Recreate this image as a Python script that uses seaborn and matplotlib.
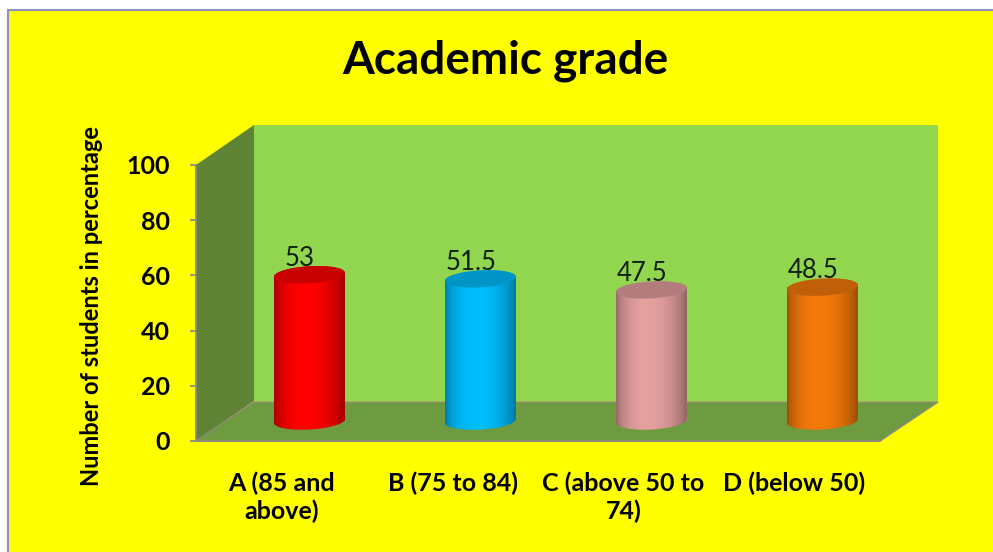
import numpy as np
import pandas as pd
import matplotlib
matplotlib.use("Agg")
import matplotlib.pyplot as plt
from matplotlib.patches import Polygon, Rectangle
from matplotlib.path import Path
from matplotlib.colors import to_rgb
from matplotlib.transforms import IdentityTransform
import seaborn as sns

categories = ["A (85 and\nabove)", "B (75 to 84)", "C (above 50 to\n74)", "D (below 50)"]
values = [53, 51.5, 47.5, 48.5]
value_labels = ["53", "51.5", "47.5", "48.5"]
bar_colors = ["#FF0000", "#00BFFF", "#E6A0A0", "#F57A0A"]
y_ticks = [0, 20, 40, 60, 80, 100]

W, H = 993, 552
sns.set_theme(style="white")
plt.rcParams["font.family"] = ["Lato", "DejaVu Sans"]

fig = plt.figure(figsize=(W / 100, H / 100), dpi=100, facecolor="white")


def fx(x, y):
    return (x / W, 1 - y / H)


def add_poly(points, **kw):
    fig.patches.append(Polygon([fx(*p) for p in points], closed=True,
                               transform=fig.transFigure, figure=fig, **kw))


def axes_px(x0, x1, y_bottom, y_top):
    return fig.add_axes([x0 / W, 1 - y_bottom / H, (x1 - x0) / W, (y_bottom - y_top) / H])


# yellow chart area
fig.patches.append(Rectangle(fx(7.5, 560), (W + 10) / W, 550 / H, transform=fig.transFigure,
                             figure=fig, facecolor="#FFFF00", edgecolor="#8F8FB5", linewidth=1.5))
# 3D box
add_poly([(254, 125), (938, 125), (938, 401), (254, 401)], facecolor="#92D650", edgecolor="none")
add_poly([(196, 165), (254, 125), (254, 401), (196, 441)], facecolor="#5F8436", edgecolor="none")
add_poly([(196, 441), (254, 402), (938, 402), (880, 441)], facecolor="#6F9B40", edgecolor="#8A8A80", linewidth=1)

# main axes: front plane with ticks and labels
ax = axes_px(196, 880, 441, 165)
ax.set_zorder(5)
ax.patch.set_visible(False)
df = pd.DataFrame({"category": categories, "value": values})
sns.barplot(data=df, x="category", y="value", ax=ax, alpha=0)
ax.set_ylim(0, 100)
ax.set_yticks(y_ticks)
ax.set_xlabel("")
ax.set_ylabel("Number of students in percentage", fontsize=17, fontweight="bold", color="black")
ax.yaxis.set_label_coords(-0.136, 0.489)
ax.tick_params(axis="y", length=4, color="#8A8A80", labelsize=18, labelcolor="black", pad=14.5, left=True)
ax.tick_params(axis="x", length=0, labelsize=18, labelcolor="black", pad=22)
for t in ax.get_yticklabels() + ax.get_xticklabels():
    t.set_fontweight("bold")
for t in ax.get_xticklabels():
    t.set_linespacing(1.25)
    t.set_verticalalignment("top")
for s in ["top", "right"]:
    ax.spines[s].set_visible(False)
ax.spines["left"].set_color("#8A8A80")
ax.spines["bottom"].set_color("#8A8A80")

# cylinders, shifted into the depth of the box (the axes reach a little below zero for the rounded bases)
bx = axes_px(224, 908, 434.8, 145)
bx.set_zorder(6)
bx.patch.set_visible(False)
sns.barplot(data=df, x="category", y="value", hue="category", palette=bar_colors,
            width=0.414, legend=False, ax=bx, saturation=1, linewidth=0)
bx.set_ylim(-5, 100)
bx.set_axis_off()
bx.set_autoscale_on(False)

fig.canvas.draw()
tilt = 0.055
b = 8.5
s = np.linspace(0, 1, 256)
shade = 0.58 + 0.42 * np.clip(np.sin(np.pi * s ** 0.85) ** 0.6, 0, 1)
for patch, col, lab in zip(list(bx.patches), bar_colors, value_labels):
    xx, top = patch.get_x(), patch.get_height()
    ww = patch.get_width()
    (xl, yb) = bx.transData.transform((xx, 0))
    (xr, yt) = bx.transData.transform((xx + ww, top))
    cx = (xl + xr) / 2
    a = (xr - xl) / 2
    t = np.linspace(0, np.pi, 60)
    # outline in pixels (display y up): bottom arc, then top arc
    bottom = np.c_[cx - a * np.cos(t), yb - b * np.sin(t) - tilt * a * np.cos(t)]
    topa = np.c_[cx + a * np.cos(t), yt + b * np.sin(t) + tilt * a * np.cos(t)]
    outline = Path(np.vstack([bottom, topa, bottom[:1]]), closed=True)
    rgb = np.array(to_rgb(col))
    img = shade[None, :, None] * rgb[None, None, :]
    im = bx.imshow(img, extent=(xx, xx + ww, -5, top + 5), aspect="auto", zorder=3, origin="lower")
    im.set_clip_path(outline, IdentityTransform())
    cap_t = np.linspace(0, 2 * np.pi, 80)
    cap = np.c_[cx + a * np.cos(cap_t), yt + b * np.sin(cap_t) + tilt * a * np.cos(cap_t)]
    bx.add_patch(Polygon(cap, closed=True, transform=IdentityTransform(), facecolor=rgb * 0.78,
                         edgecolor="none", zorder=4, clip_on=False))
    bx.annotate(lab, (xx + ww / 2, top), xytext=(-7, 3), textcoords="offset points", ha="center",
                va="bottom", fontsize=18.5, color="#102010", zorder=5, annotation_clip=False)

fig.text(505 / W, 1 - 61 / H, "Academic grade", fontsize=33, fontweight="bold", color="black",
         ha="center", va="center")

fig.savefig("out.png", dpi=100, facecolor=fig.get_facecolor())
